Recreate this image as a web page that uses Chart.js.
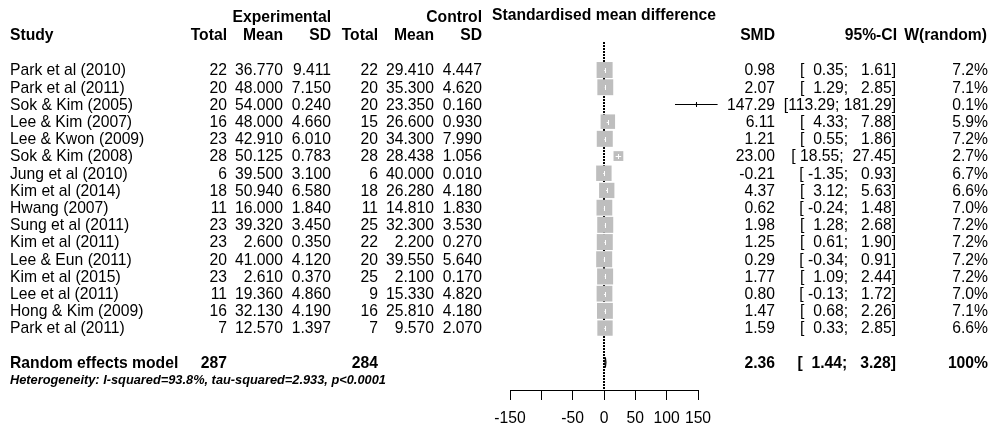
<!DOCTYPE html>
<html>
<head>
<meta charset="utf-8">
<script src="https://cdn.jsdelivr.net/npm/chart.js@4.4.0/dist/chart.umd.min.js"></script>
<style>
  body { margin: 0; background: #fff; }
  #wrap { width: 992px; height: 426px; }
</style>
</head>
<body>
<div id="wrap"><canvas id="forest" width="992" height="426"></canvas></div>
<script>
// study data
var studies = ['Park et al (2010)', 'Park et al (2011)', 'Sok & Kim (2005)', 'Lee & Kim (2007)',
  'Lee & Kwon (2009)', 'Sok & Kim (2008)', 'Jung et al (2010)', 'Kim et al (2014)', 'Hwang (2007)',
  'Sung et al (2011)', 'Kim et al (2011)', 'Lee & Eun (2011)', 'Kim et al (2015)', 'Lee et al (2011)',
  'Hong & Kim (2009)', 'Park et al (2011)'];
var expTotal = [22, 20, 20, 16, 23, 28, 6, 18, 11, 23, 23, 20, 23, 11, 16, 7];
var expMean = [36.770, 48.000, 54.000, 48.000, 42.910, 50.125, 39.500, 50.940, 16.000, 39.320, 2.600, 41.000, 2.610, 19.360, 32.130, 12.570];
var expSD = [9.411, 7.150, 0.240, 4.660, 6.010, 0.783, 3.100, 6.580, 1.840, 3.450, 0.350, 4.120, 0.370, 4.860, 4.190, 1.397];
var ctrlTotal = [22, 20, 20, 15, 20, 28, 6, 18, 11, 25, 22, 20, 25, 9, 16, 7];
var ctrlMean = [29.410, 35.300, 23.350, 26.600, 34.300, 28.438, 40.000, 26.280, 14.810, 32.300, 2.200, 39.550, 2.100, 15.330, 25.810, 9.570];
var ctrlSD = [4.447, 4.620, 0.160, 0.930, 7.990, 1.056, 0.010, 4.180, 1.830, 3.530, 0.270, 5.640, 0.170, 4.820, 4.180, 2.070];
var smd = [0.98, 2.07, 147.29, 6.11, 1.21, 23.00, -0.21, 4.37, 0.62, 1.98, 1.25, 0.29, 1.77, 0.80, 1.47, 1.59];
var ciLow = [0.35, 1.29, 113.29, 4.33, 0.55, 18.55, -1.35, 3.12, -0.24, 1.28, 0.61, -0.34, 1.09, -0.13, 0.68, 0.33];
var ciHigh = [1.61, 2.85, 181.29, 7.88, 1.86, 27.45, 0.93, 5.63, 1.48, 2.68, 1.90, 0.91, 2.44, 1.72, 2.26, 2.85];
var weight = [7.2, 7.1, 0.1, 5.9, 7.2, 2.7, 6.7, 6.6, 7.0, 7.2, 7.2, 7.2, 7.2, 7.0, 7.1, 6.6];

// random effects summary
var totalExp = 287;
var totalCtrl = 284;
var pooled = [1.44, 2.36, 3.28]; // lower, estimate, upper
var pooledWeight = 100;
var i2 = 93.8;
var tau2 = 2.933;
var pText = 'p<0.0001';

// axis
var tickValues = [-150, -100, -50, 0, 50, 100, 150];
var tickLabels = ['-150', '', '-50', '0', '50', '100', '150'];

var summaryRow = studies.length + 1;
var FONT = "'Liberation Sans', Arial, sans-serif";
var FS = 15.7;

function fmtCI(lo, hi) {
  return '[' + lo.toFixed(2).padStart(6) + '; ' + hi.toFixed(2).padStart(6) + ']';
}
function sideFor(w) { return 16 * Math.sqrt(w / 7.2); }

var forestPlugin = {
  id: 'forest',
  beforeDatasetsDraw: function(chart) {
    // null line, dotted
    var ctx = chart.ctx, a = chart.chartArea, x = chart.scales.x;
    var px = Math.round(x.getPixelForValue(0));
    ctx.save();
    ctx.strokeStyle = '#000';
    ctx.lineWidth = 2;
    ctx.setLineDash([2, 1]);
    ctx.beginPath();
    ctx.moveTo(px, a.top);
    ctx.lineTo(px, a.bottom);
    ctx.stroke();
    ctx.restore();
  },
  afterDatasetsDraw: function(chart) {
    var ctx = chart.ctx, x = chart.scales.x, y = chart.scales.y;
    ctx.save();
    ctx.lineWidth = 1;
    for (var i = 0; i < studies.length; i++) {
      var yy = Math.round(y.getPixelForValue(i)) + 0.5;
      var x1 = x.getPixelForValue(ciLow[i]), x2 = x.getPixelForValue(ciHigh[i]);
      var xm = x.getPixelForValue(smd[i]);
      var half = sideFor(weight[i]) / 2;
      var inside = (xm - x1) < half && (x2 - xm) < half;
      ctx.strokeStyle = inside ? '#fff' : '#000';
      ctx.beginPath();
      ctx.moveTo(x1, yy); ctx.lineTo(x2, yy);
      ctx.moveTo(Math.round(xm) + 0.5, yy - 2.5); ctx.lineTo(Math.round(xm) + 0.5, yy + 2.5);
      ctx.stroke();
    }
    // summary diamond
    var ys = y.getPixelForValue(summaryRow);
    ctx.beginPath();
    ctx.moveTo(x.getPixelForValue(pooled[0]), ys);
    ctx.lineTo(x.getPixelForValue(pooled[1]), ys - 5);
    ctx.lineTo(x.getPixelForValue(pooled[2]), ys);
    ctx.lineTo(x.getPixelForValue(pooled[1]), ys + 5);
    ctx.closePath();
    ctx.fillStyle = '#808080';
    ctx.fill();
    ctx.strokeStyle = '#000';
    ctx.stroke();
    ctx.restore();
  },
  afterDraw: function(chart) {
    var ctx = chart.ctx, y = chart.scales.y;
    ctx.save();
    ctx.fillStyle = '#000';
    ctx.textBaseline = 'middle';

    function txt(s, px, py, align) {
      ctx.textAlign = align || 'right';
      ctx.fillText(s, px, py);
    }

    // headers
    ctx.font = 'bold ' + FS + 'px ' + FONT;
    txt('Experimental', 331, 18);
    txt('Control', 482, 18);
    txt('Standardised mean difference', 492, 16, 'left');
    txt('Study', 10, 36, 'left');
    txt('Total', 227, 36); txt('Mean', 283, 36); txt('SD', 331, 36);
    txt('Total', 378, 36); txt('Mean', 434, 36); txt('SD', 482, 36);
    txt('SMD', 775, 36); txt('95%-CI', 897, 36); txt('W(random)', 987, 36);

    // study rows
    ctx.font = FS + 'px ' + FONT;
    for (var i = 0; i < studies.length; i++) {
      var py = y.getPixelForValue(i) + 1;
      txt(studies[i], 10, py, 'left');
      txt(String(expTotal[i]), 227, py);
      txt(expMean[i].toFixed(3), 283, py);
      txt(expSD[i].toFixed(3), 331, py);
      txt(String(ctrlTotal[i]), 378, py);
      txt(ctrlMean[i].toFixed(3), 434, py);
      txt(ctrlSD[i].toFixed(3), 482, py);
      txt(smd[i].toFixed(2), 775, py);
      txt(fmtCI(ciLow[i], ciHigh[i]), 896, py);
      txt(weight[i].toFixed(1) + '%', 988, py);
    }

    // summary row
    var ys = y.getPixelForValue(summaryRow) + 1;
    ctx.font = 'bold ' + FS + 'px ' + FONT;
    txt('Random effects model', 10, ys, 'left');
    txt(String(totalExp), 227, ys);
    txt(String(totalCtrl), 378, ys);
    txt(pooled[1].toFixed(2), 775, ys);
    txt(fmtCI(pooled[0], pooled[2]), 896, ys);
    txt(pooledWeight + '%', 988, ys);

    ctx.font = 'italic bold 12.8px ' + FONT;
    txt('Heterogeneity: I-squared=' + i2 + '%, tau-squared=' + tau2 + ', ' + pText, 10, ys + 17, 'left');
    ctx.restore();
  }
};

var ctx = document.getElementById('forest').getContext('2d');
var chart = new Chart(ctx, {
  type: 'scatter',
  data: {
    datasets: [{
      label: 'SMD',
      data: smd.map(function(v, i) { return { x: v, y: i }; }),
      pointStyle: 'rect',
      pointRadius: weight.map(function(w) { return sideFor(w) / Math.SQRT2; }),
      backgroundColor: '#bebebe',
      borderWidth: 0
    }]
  },
  options: {
    responsive: false,
    animation: false,
    events: [],
    layout: { padding: { left: 510, right: 294, top: 42, bottom: 0 } },
    plugins: { legend: { display: false }, tooltip: { enabled: false } },
    scales: {
      x: {
        type: 'linear',
        min: -150,
        max: 150,
        afterBuildTicks: function(scale) {
          scale.ticks = tickValues.map(function(v) { return { value: v }; });
        },
        afterFit: function(scale) { scale.height = 36; },
        grid: { drawOnChartArea: false, tickLength: 10, color: '#000', tickColor: '#000' },
        border: { display: true, color: '#000', width: 1 },
        ticks: {
          autoSkip: false,
          maxRotation: 0,
          padding: 9,
          color: '#000',
          font: { family: FONT, size: FS },
          callback: function(v) { return tickLabels[tickValues.indexOf(v)]; }
        }
      },
      y: {
        type: 'linear',
        display: false,
        reverse: true,
        min: -1.63,
        max: 18.6
      }
    }
  },
  plugins: [forestPlugin]
});
</script>
</body>
</html>
